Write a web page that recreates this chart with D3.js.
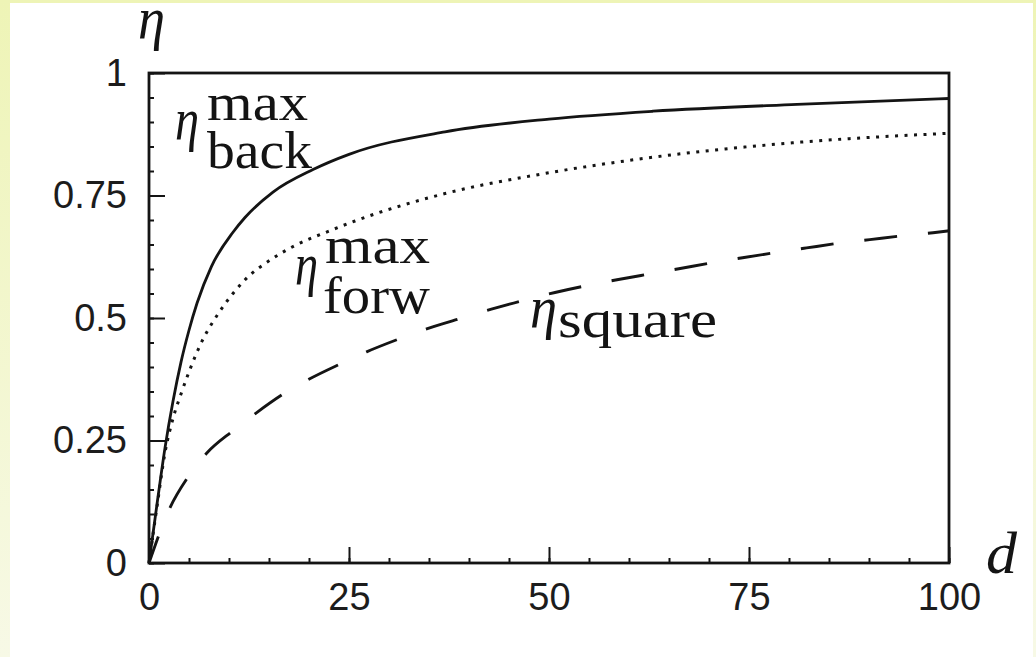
<!DOCTYPE html>
<html>
<head>
<meta charset="utf-8">
<script src="https://cdn.jsdelivr.net/npm/d3@7/dist/d3.min.js"></script>
<style>
  html, body { margin: 0; padding: 0; background: #fff; }
  svg { display: block; }
</style>
</head>
<body>
<svg id="chart" width="1036" height="657"></svg>
<script>
// Efficiency curves η(d): each series is a list of [d, η] pairs
const etaBackMax = [
  [0, 0], [1, 0.12], [2, 0.235], [3, 0.33], [4, 0.41], [5, 0.475], [6, 0.53],
  [7.8, 0.605], [10.5, 0.675], [12, 0.705], [15.5, 0.757], [20.5, 0.803],
  [25, 0.834], [37, 0.88], [50, 0.906], [63, 0.922], [81, 0.936], [100, 0.948]
];
const etaForwMax = [
  [0, 0], [1, 0.115], [2, 0.225], [3, 0.295], [4, 0.345], [5, 0.39], [6.4, 0.445],
  [8.7, 0.51], [10.5, 0.55], [12, 0.578], [15.5, 0.622], [18.25, 0.648],
  [22.6, 0.678], [25.75, 0.698], [37, 0.754], [49.5, 0.795], [62, 0.826],
  [80.75, 0.858], [100, 0.877]
];
const etaSquare = [
  [0, 0], [2.6, 0.112], [4.9, 0.176], [7.2, 0.224], [10.5, 0.27], [13.3, 0.305],
  [16.8, 0.345], [20.1, 0.376], [24, 0.407], [27.2, 0.431], [31.2, 0.457],
  [34.9, 0.479], [39.1, 0.5], [42.8, 0.518], [46.8, 0.536], [50.75, 0.552],
  [54.7, 0.566], [58.5, 0.578], [62.6, 0.59], [66.4, 0.601], [70.5, 0.613],
  [74.2, 0.623], [78.5, 0.634], [82.2, 0.643], [86.4, 0.653], [90.1, 0.66],
  [94.3, 0.668], [98, 0.674], [100, 0.678]
];

// Axis ticks
const xTicks = [0, 25, 50, 75, 100];
const xTickLabels = ["0", "25", "50", "75", "100"];
const yTicks = [0, 0.25, 0.5, 0.75, 1];
const yTickLabels = ["0", "0.25", "0.5", "0.75", "1"];
const xMinorTicks = d3.range(0, 101, 5);
const yMinorTicks = d3.range(0, 21).map(i => i * 0.05);

const svg = d3.select("#chart");
const W = 1036, H = 657;

// Page backdrop: pale yellow band with a white sheet on it
const defs = svg.append("defs");
const grad = defs.append("linearGradient")
  .attr("id", "paper").attr("x1", 0).attr("y1", 0).attr("x2", 0).attr("y2", 1);
grad.append("stop").attr("offset", "0%").attr("stop-color", "#eef4b6");
grad.append("stop").attr("offset", "100%").attr("stop-color", "#f7f9e6");
svg.append("rect").attr("width", W).attr("height", H).attr("fill", "url(#paper)");
svg.append("rect").attr("x", 10).attr("y", 3).attr("width", 1023).attr("height", H - 3)
  .attr("fill", "#ffffff");

const plot = { left: 149, top: 73, right: 949, bottom: 563 };
const x = d3.scaleLinear().domain([0, 100]).range([plot.left, plot.right]);
const y = d3.scaleLinear().domain([0, 1]).range([plot.bottom, plot.top]);

const ink = "#141414";

// Minor ticks (inside the frame)
svg.append("g")
  .attr("transform", `translate(0,${plot.bottom})`)
  .call(d3.axisBottom(x).tickValues(xMinorTicks).tickSize(-5).tickFormat(""))
  .call(g => g.select(".domain").remove())
  .call(g => g.selectAll("line").attr("stroke", ink).attr("stroke-width", 2));
svg.append("g")
  .attr("transform", `translate(${plot.left},0)`)
  .call(d3.axisLeft(y).tickValues(yMinorTicks).tickSize(-5).tickFormat(""))
  .call(g => g.select(".domain").remove())
  .call(g => g.selectAll("line").attr("stroke", ink).attr("stroke-width", 2));

// Major ticks with labels
const tickFont = "'Liberation Sans', Arial, Helvetica, sans-serif";
svg.append("g")
  .attr("transform", `translate(0,${plot.bottom})`)
  .call(d3.axisBottom(x).tickValues(xTicks).tickSize(-16).tickPadding(20)
    .tickFormat((d, i) => xTickLabels[i]))
  .call(g => g.select(".domain").remove())
  .call(g => g.selectAll("line").attr("stroke", ink).attr("stroke-width", 2))
  .call(g => g.selectAll("text").attr("fill", "#1c1c1c")
    .style("font-family", tickFont).style("font-size", "38px"));
svg.append("g")
  .attr("transform", `translate(${plot.left},0)`)
  .call(d3.axisLeft(y).tickValues(yTicks).tickSize(-16).tickPadding(22)
    .tickFormat((d, i) => yTickLabels[i]))
  .call(g => g.select(".domain").remove())
  .call(g => g.selectAll("line").attr("stroke", ink).attr("stroke-width", 2))
  .call(g => g.selectAll("text").attr("fill", "#1c1c1c")
    .style("font-family", tickFont).style("font-size", "38px"));

// Curves
const line = d3.line()
  .x(d => x(d[0]))
  .y(d => y(d[1]))
  .curve(d3.curveMonotoneX);

svg.append("path").datum(etaSquare)
  .attr("d", line).attr("fill", "none").attr("stroke", ink)
  .attr("stroke-width", 2.9).attr("stroke-dasharray", "33,31").attr("stroke-dashoffset", 5);
svg.append("path").datum(etaForwMax)
  .attr("d", line).attr("fill", "none").attr("stroke", ink)
  .attr("stroke-width", 3).attr("stroke-dasharray", "3,6.5");
svg.append("path").datum(etaBackMax)
  .attr("d", line).attr("fill", "none").attr("stroke", ink)
  .attr("stroke-width", 2.8);

// Frame
svg.append("rect")
  .attr("x", plot.left).attr("y", plot.top)
  .attr("width", plot.right - plot.left).attr("height", plot.bottom - plot.top)
  .attr("fill", "none").attr("stroke", ink).attr("stroke-width", 2.8);

// Math-style labels: η with optional superscript / subscript, one text element each
const serif = "'Liberation Serif', 'Times New Roman', serif";
function mathLabel(parts) {
  const t = svg.append("text")
    .attr("fill", ink)
    .style("font-family", serif);
  parts.forEach(p => {
    t.append("tspan")
      .attr("x", p.x).attr("y", p.y)
      .attr("textLength", p.w).attr("lengthAdjust", "spacingAndGlyphs")
      .style("font-size", p.size + "px")
      .style("font-style", p.italic ? "italic" : "normal")
      .text(p.t);
  });
}

// axis names
mathLabel([{ t: "η", x: 138, y: 38, w: 27, size: 60, italic: true }]);
mathLabel([{ t: "d", x: 986, y: 573, w: 31, size: 60, italic: true }]);

// η_back^max
mathLabel([
  { t: "η", x: 175, y: 139, w: 24, size: 60, italic: true },
  { t: "max", x: 207, y: 120, w: 101, size: 52 },
  { t: "back", x: 207, y: 168, w: 105, size: 52 }
]);

// η_forw^max
mathLabel([
  { t: "η", x: 295, y: 284, w: 23, size: 60, italic: true },
  { t: "max", x: 325, y: 263, w: 105, size: 52 },
  { t: "forw", x: 323, y: 313, w: 107, size: 52 }
]);

// η_square
mathLabel([
  { t: "η", x: 530, y: 327, w: 27, size: 60, italic: true },
  { t: "square", x: 558, y: 337, w: 159, size: 52 }
]);
</script>
</body>
</html>
